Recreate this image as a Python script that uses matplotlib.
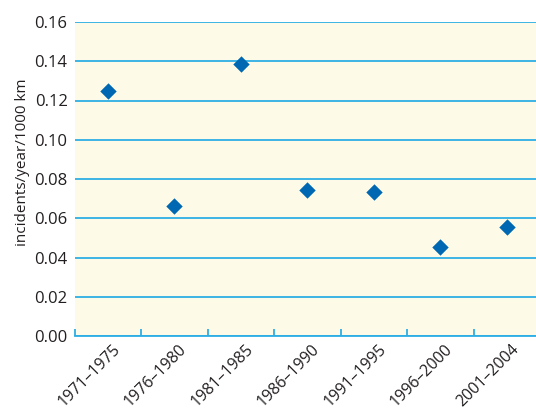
import matplotlib
matplotlib.use('Agg')
import matplotlib.pyplot as plt
import matplotlib.transforms as mtransforms
import numpy as np

# data
periods = ['1971–1975', '1976–1980', '1981–1985', '1986–1990',
           '1991–1995', '1996–2000', '2001–2004']
incidents = [0.1247, 0.0663, 0.1388, 0.0745, 0.0733, 0.0456, 0.0553]
yticks = [0.00, 0.02, 0.04, 0.06, 0.08, 0.10, 0.12, 0.14, 0.16]

plt.rcParams['font.family'] = ['Open Sans', 'DejaVu Sans']

grid_c = '#2DAEE3'
fig = plt.figure(figsize=(5.36, 4.12), dpi=100)
ax = fig.add_axes([74.5 / 536, 76 / 412, 465.5 / 536, 314 / 412])
ax.set_facecolor('#FDFBE7')

x = np.arange(len(periods))
ax.scatter(x, incidents, marker='D', s=70, color='#0068B3', zorder=3, linewidths=0)

ax.set_xlim(-0.5, len(periods) - 0.5)
ax.set_ylim(0, 0.16)
ax.set_yticks(yticks)
ax.set_yticklabels(['%.2f' % v for v in yticks], fontsize=12, color='#231F20')
ax.yaxis.grid(True, color=grid_c, linewidth=1.3)
ax.set_axisbelow(True)
ax.tick_params(axis='y', length=0, pad=5)

# ticks at category boundaries, labels at centres
ax.set_xticks(np.arange(len(periods)) - 0.5)
ax.set_xticklabels([])
ax.set_xticks(x, minor=True)
ax.set_xticklabels(periods, minor=True, rotation=45, ha='right',
                   rotation_mode='anchor', fontsize=11.5, color='#231F20')
ax.tick_params(axis='x', which='major', direction='in', length=5, color=grid_c, width=1.3)
ax.tick_params(axis='x', which='minor', length=0, pad=4)
offset = mtransforms.ScaledTranslation(3 / 72, 0, fig.dpi_scale_trans)
for lab in ax.get_xticklabels(minor=True):
    lab.set_transform(lab.get_transform() + offset)

for s in ['top', 'right', 'left']:
    ax.spines[s].set_visible(False)
ax.spines['bottom'].set_color(grid_c)
ax.spines['bottom'].set_linewidth(1.3)

ax.set_ylabel('incidents/year/1000 km', fontsize=11, color='#231F20')
ax.yaxis.set_label_coords(-0.095, 0.554)

fig.savefig('out.png', dpi=100)
